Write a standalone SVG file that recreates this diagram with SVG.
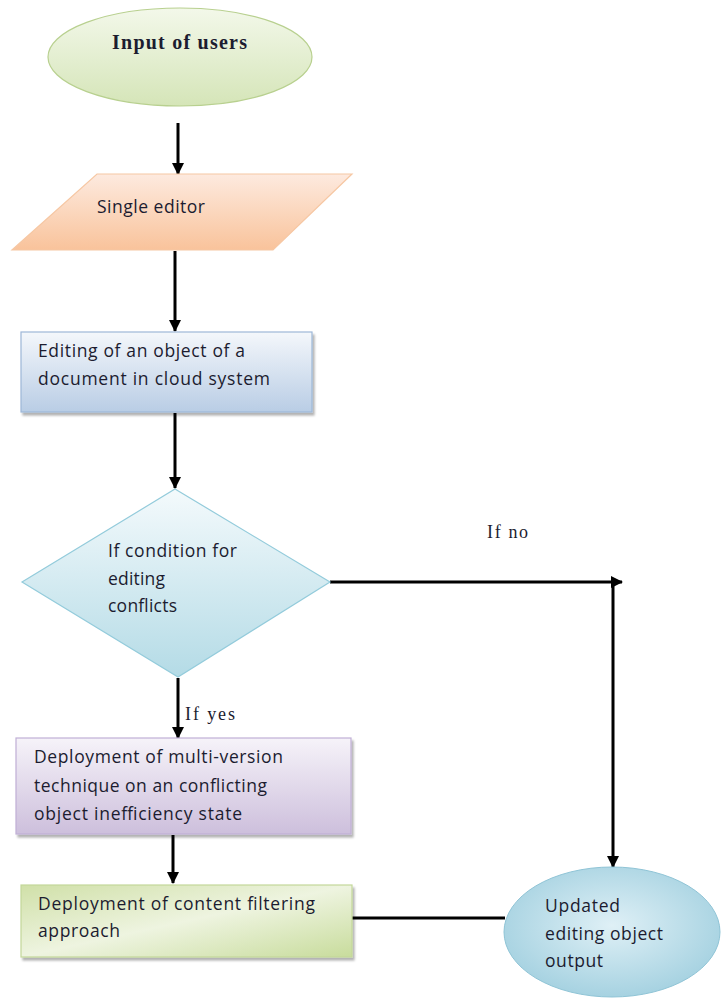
<svg xmlns="http://www.w3.org/2000/svg" width="721" height="1003" viewBox="0 0 721 1003">
  <defs>
    <linearGradient id="gGreenTop" x1="0" y1="0" x2="0" y2="1">
      <stop offset="0" stop-color="#f3f8ea"/>
      <stop offset="1" stop-color="#d5e5b8"/>
    </linearGradient>
    <linearGradient id="gPeach" x1="0" y1="0" x2="0" y2="1">
      <stop offset="0" stop-color="#fdeadf"/>
      <stop offset="1" stop-color="#f9c39b"/>
    </linearGradient>
    <linearGradient id="gBlue" x1="0" y1="0" x2="0" y2="1">
      <stop offset="0" stop-color="#f4f7fb"/>
      <stop offset="1" stop-color="#b9cde5"/>
    </linearGradient>
    <linearGradient id="gCyan" x1="0" y1="0" x2="0" y2="1">
      <stop offset="0" stop-color="#f4fafc"/>
      <stop offset="1" stop-color="#b4dbe6"/>
    </linearGradient>
    <linearGradient id="gPurple" x1="0" y1="0" x2="0" y2="1">
      <stop offset="0" stop-color="#f6f3f9"/>
      <stop offset="1" stop-color="#cdbfdc"/>
    </linearGradient>
    <linearGradient id="gGreen" x1="0" y1="0" x2="1" y2="1">
      <stop offset="0" stop-color="#d0e0a8"/>
      <stop offset="0.5" stop-color="#eef4e0"/>
      <stop offset="1" stop-color="#c8dc9c"/>
    </linearGradient>
    <radialGradient id="gOut" cx="0.5" cy="0.45" r="0.55">
      <stop offset="0" stop-color="#dff0f6"/>
      <stop offset="1" stop-color="#a6d2e1"/>
    </radialGradient>
    <filter id="shadow" x="-5%" y="-5%" width="115%" height="120%">
      <feDropShadow dx="2" dy="3" stdDeviation="1.2" flood-color="#000" flood-opacity="0.3"/>
    </filter>
    <marker id="arrow" viewBox="0 0 12 12" refX="11" refY="6" markerWidth="4" markerHeight="4" orient="auto" markerUnits="strokeWidth">
      <path d="M0,0 L12,6 L0,12 Z" fill="#000"/>
    </marker>
  </defs>
  <style>
    .lbl { font-family: "Open Sans", "Liberation Sans", sans-serif; font-size: 17.5px; fill: #1c1c30; }
    .ser { font-family: "Liberation Serif", serif; fill: #1c1c30; }
    .conn { stroke: #000; stroke-width: 3; fill: none; }
  </style>

  <!-- connectors -->
  <g id="connectors">
    <line class="conn" x1="178" y1="123" x2="178" y2="174" marker-end="url(#arrow)"/>
    <line class="conn" x1="175" y1="251" x2="175" y2="331" marker-end="url(#arrow)"/>
    <line class="conn" x1="175" y1="413" x2="175" y2="488" marker-end="url(#arrow)"/>
    <line class="conn" x1="330" y1="582" x2="622" y2="582" marker-end="url(#arrow)"/>
    <line class="conn" x1="613" y1="582" x2="613" y2="867" marker-end="url(#arrow)"/>
    <line class="conn" x1="178" y1="678" x2="178" y2="738" marker-end="url(#arrow)"/>
    <line class="conn" x1="173" y1="835" x2="173" y2="883" marker-end="url(#arrow)"/>
    <line class="conn" x1="352" y1="918" x2="505" y2="918"/>
    <text class="ser" x="487" y="538" font-size="18" textLength="41">If no</text>
    <text class="ser" x="185" y="720" font-size="18" textLength="50">If yes</text>
  </g>

  <!-- start: input of users -->
  <g id="node-input">
    <ellipse cx="180" cy="57" rx="132" ry="49" fill="url(#gGreenTop)" stroke="#b8d08f" stroke-width="1.2"/>
    <text class="ser" x="112" y="49" font-size="20" font-weight="bold" textLength="135">Input of users</text>
  </g>

  <!-- single editor (data) -->
  <g id="node-editor">
    <polygon points="97,174 352,174 273,250 12,250" fill="url(#gPeach)" stroke="#f6c7a3" stroke-width="1.2"/>
    <text class="lbl" x="97" y="213" textLength="108">Single editor</text>
  </g>

  <!-- editing step -->
  <g id="node-editing">
    <rect x="21" y="332" width="291" height="80" fill="url(#gBlue)" stroke="#9db7d8" stroke-width="1.2" filter="url(#shadow)"/>
    <text class="lbl" x="38" y="357" textLength="207">Editing of an object of a</text>
    <text class="lbl" x="38" y="385" textLength="232">document in cloud system</text>
  </g>

  <!-- decision -->
  <g id="node-decision">
    <polygon points="175,489 330,582 178,677 22,582" fill="url(#gCyan)" stroke="#93cbdb" stroke-width="1.2"/>
    <text class="lbl" x="108" y="557" textLength="129">If condition for</text>
    <text class="lbl" x="108" y="585" textLength="57">editing</text>
    <text class="lbl" x="108" y="612" textLength="69">conflicts</text>
  </g>

  <!-- multi-version step -->
  <g id="node-multiversion">
    <rect x="16" y="738" width="335" height="96" fill="url(#gPurple)" stroke="#c0b0d6" stroke-width="1.2" filter="url(#shadow)"/>
    <text class="lbl" x="34" y="763" textLength="249">Deployment of multi-version</text>
    <text class="lbl" x="34" y="792" textLength="233">technique on an conflicting</text>
    <text class="lbl" x="34" y="820" textLength="208">object inefficiency state</text>
  </g>

  <!-- content filtering step -->
  <g id="node-filtering">
    <rect x="21" y="885" width="331" height="72" fill="url(#gGreen)" stroke="#c3d79a" stroke-width="1.2" filter="url(#shadow)"/>
    <text class="lbl" x="38" y="910" textLength="277">Deployment of content filtering</text>
    <text class="lbl" x="38" y="937" textLength="82">approach</text>
  </g>

  <!-- end: output -->
  <g id="node-output">
    <ellipse cx="612" cy="932" rx="108" ry="65" fill="url(#gOut)" stroke="#8fc4d6" stroke-width="1"/>
    <text class="lbl" x="545" y="912" textLength="75">Updated</text>
    <text class="lbl" x="545" y="940" textLength="118">editing object</text>
    <text class="lbl" x="545" y="967" textLength="58">output</text>
  </g>
</svg>
